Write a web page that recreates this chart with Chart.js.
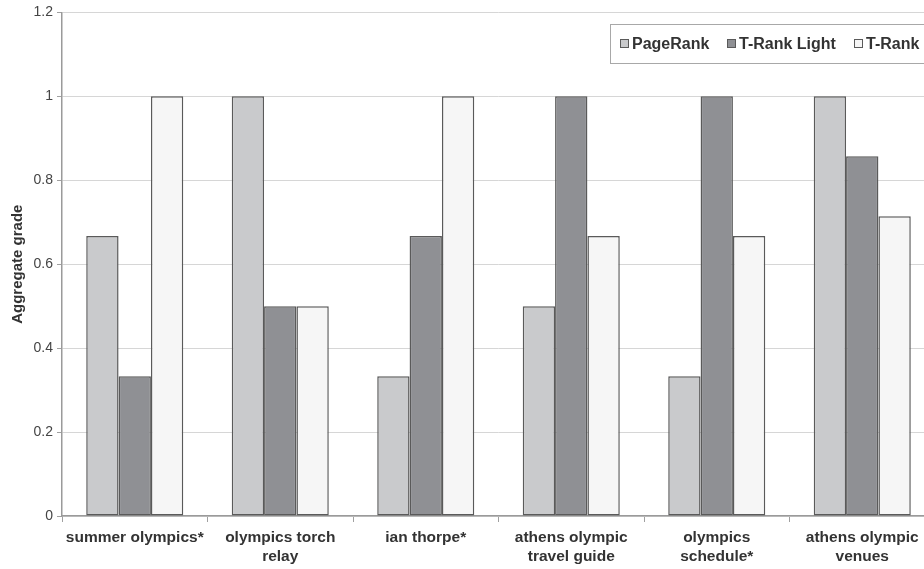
<!DOCTYPE html>
<html>
<head>
<meta charset="utf-8">
<script src="https://cdn.jsdelivr.net/npm/chart.js@4/dist/chart.umd.min.js"></script>
<style>
  html, body { margin: 0; padding: 0; background: #fff; overflow: hidden; }
  #wrap { width: 940px; height: 569px; }
</style>
</head>
<body>
<div id="wrap"><canvas id="c" width="940" height="569"></canvas></div>
<script>
// Query categories (multi-line labels)
const categories = [
  ["summer olympics*"],
  ["olympics torch", "relay"],
  ["ian thorpe*"],
  ["athens olympic", "travel guide"],
  ["olympics", "schedule*"],
  ["athens olympic", "venues"]
];

// Aggregate grade per ranking method
const pageRank   = [0.667, 1.0,   0.333, 0.5,   0.333, 1.0];
const tRankLight = [0.333, 0.5,   0.667, 1.0,   1.0,   0.857];
const tRank      = [1.0,   0.5,   1.0,   0.667, 0.667, 0.714];

const seriesNames = ["PageRank", "T-Rank Light", "T-Rank"];
const yTicks = [0, 0.2, 0.4, 0.6, 0.8, 1, 1.2];

const fills = ["#c9cacc", "#8f9094", "#f6f6f6"];
const edge = "#5a5a5a";

// Boxed legend drawn inside the plot's upper-right corner
const boxedLegend = {
  id: "boxedLegend",
  afterDraw(chart) {
    const ctx = chart.ctx;
    ctx.save();
    ctx.strokeStyle = "#a8a8a8";
    ctx.lineWidth = 1;
    ctx.fillStyle = "#ffffff";
    ctx.fillRect(610.5, 24.5, 340, 39);
    ctx.strokeRect(610.5, 24.5, 340, 39);
    ctx.font = "bold 16px 'Liberation Sans', Arial, sans-serif";
    ctx.textBaseline = "middle";
    ctx.textAlign = "left";
    const xs = [620, 727, 854];
    const cy = 44;
    chart.data.datasets.forEach((ds, i) => {
      ctx.fillStyle = ds.backgroundColor;
      ctx.fillRect(xs[i] + 0.5, cy - 4.5, 8, 8);
      ctx.strokeStyle = edge;
      ctx.lineWidth = 1;
      ctx.strokeRect(xs[i] + 0.5, cy - 4.5, 8, 8);
      ctx.fillStyle = "#333333";
      ctx.fillText(ds.label, xs[i] + 12, cy + 1);
    });
    ctx.restore();
  }
};

new Chart(document.getElementById("c"), {
  type: "bar",
  data: {
    labels: categories,
    datasets: [
      { label: seriesNames[0], data: pageRank,   backgroundColor: fills[0] },
      { label: seriesNames[1], data: tRankLight, backgroundColor: fills[1] },
      { label: seriesNames[2], data: tRank,      backgroundColor: fills[2] }
    ].map(d => Object.assign(d, { borderColor: edge, borderWidth: 1.5, borderSkipped: false }))
  },
  options: {
    responsive: false,
    animation: false,
    devicePixelRatio: 1,
    layout: { padding: { top: 12, right: 5, left: 0, bottom: 0 } },
    datasets: { bar: { barPercentage: 1.0, categoryPercentage: 0.667 } },
    plugins: {
      legend: { display: false },
      tooltip: { enabled: false }
    },
    scales: {
      x: {
        grid: {
          offset: true,
          drawOnChartArea: false,
          drawTicks: true,
          tickLength: 6,
          tickColor: "#a0a0a0"
        },
        border: { color: "#9a9a9a", width: 1.5 },
        ticks: {
          color: "#333333",
          font: { family: "'Liberation Sans', Arial, sans-serif", size: 15.5, weight: "bold", lineHeight: 1.18 },
          padding: 7,
          maxRotation: 0,
          autoSkip: false
        },
        afterFit(scale) { scale.height = 53; }
      },
      y: {
        min: 0,
        max: 1.2,
        afterBuildTicks(scale) { scale.ticks = yTicks.map(v => ({ value: v })); },
        grid: {
          color: "#d6d6d6",
          lineWidth: 1,
          drawTicks: true,
          tickLength: 5,
          tickColor: "#a0a0a0"
        },
        border: { color: "#9a9a9a", width: 1.5 },
        ticks: {
          color: "#444444",
          font: { family: "'Liberation Sans', Arial, sans-serif", size: 14 },
          padding: 4,
          callback: v => String(v)
        },
        title: {
          display: true,
          text: "Aggregate grade",
          color: "#333333",
          font: { family: "'Liberation Sans', Arial, sans-serif", size: 15, weight: "bold" },
          padding: { top: 9, bottom: 4 }
        },
        afterFit(scale) { scale.width = 62; }
      }
    }
  },
  plugins: [boxedLegend]
});
</script>
</body>
</html>
